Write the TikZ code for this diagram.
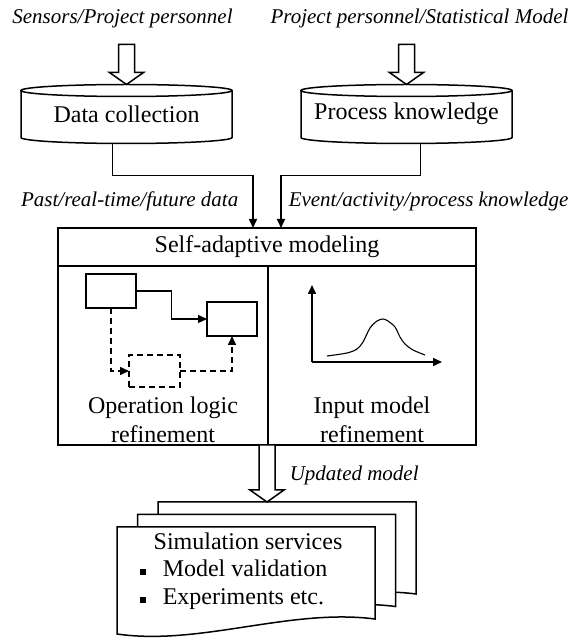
\documentclass[tikz,border=0pt]{standalone}
\usepackage{fontspec}
\setmainfont{Liberation Serif}
\usepackage{tikz}
\usetikzlibrary{calc,arrows.meta}
\newcommand{\mainsize}{\fontsize{24}{29}\selectfont}
\newcommand{\labelsize}{\fontsize{21}{25}\selectfont\itshape}
% hollow block arrow, tip at #1, length #2
\newcommand{\fatarrow}[2]{
	\draw[fill=white] let \p1=(#1) in
		(\x1-8pt,\y1+#2) -- (\x1+8pt,\y1+#2) -- (\x1+8pt,\y1+12pt) -- (\x1+17pt,\y1+12pt)
		-- (\x1,\y1) -- (\x1-17pt,\y1+12pt) -- (\x1-8pt,\y1+12pt) -- cycle;
}
% drum outline round node #1
\newcommand{\drum}[1]{
	\draw (#1.north west) -- (#1.south west) arc[start angle=180, end angle=360, x radius=105.5, y radius=6] -- (#1.north east);
	\draw (#1.north) ellipse [x radius=105.5, y radius=6];
}
% one sheet of the document stack, top left corner at (#1,#2)
\newcommand{\docsheet}[2]{
	\begin{scope}[shift={(#1,#2)}]
	\draw[fill=white] (0,0) -- (258,0) -- (258,-92) .. controls (173,-81) and (83,-119) .. (0,-107) -- cycle;
	\end{scope}
}
\tikzset{
	lbl/.style={font=\labelsize, inner sep=0pt},
	txt/.style={font=\mainsize, inner sep=0pt},
	box/.style={draw, outer sep=0pt, inner sep=0pt},
	conn/.style={-{Triangle[length=9pt,width=8pt]}},
	dashline/.style={dash pattern=on 6pt off 4pt}
}

\begin{document}
\begin{tikzpicture}[x=1pt,y=1pt,line width=1.5pt]
	\useasboundingbox (0,0) rectangle (574,638);

	% sources
	\node[lbl] (sens) at (122.5,619.5) {Sensors/Project personnel};
	\node[lbl] (stat) at (419.5,619.5) {Project personnel/Statistical Model};

	\node[txt, minimum width=211pt, minimum height=47pt, outer sep=0pt] (dc) at (126.5,524) {Data collection};
	\node[txt, minimum width=211pt, minimum height=47pt, outer sep=0pt] (pk) at (406.5,524) {Process knowledge};
	\drum{dc}
	\drum{pk}

	\coordinate (dctop) at ($(dc.north)+(0,6)$);
	\coordinate (pktop) at ($(pk.north)+(0,6)$);
	\fatarrow{dctop}{40pt}
	\fatarrow{pktop}{40pt}

	% self-adaptive modeling box
	\node[box, font=\mainsize, minimum width=418pt, minimum height=38pt] (hdr) at (267,391) {Self-adaptive modeling};
	\node[box, minimum width=210pt, minimum height=179pt, anchor=north west] (olp) at (hdr.south west) {};
	\node[box, minimum width=208pt, minimum height=179pt, anchor=north east] (imp) at (hdr.south east) {};
	\node[txt, align=center, anchor=base] (olt) at ($(olp.south)+(0,2)$) {Operation logic\\refinement};
	\node[txt, align=center, anchor=base] (imt) at ($(imp.south)+(0,2)$) {Input model\\refinement};

	\coordinate (dcout) at ($(dc.south)+(-14,-6)$);
	\coordinate (pkout) at ($(pk.south)+(14,-6)$);
	\coordinate (inL) at ($(hdr.north)+(-14,0)$);
	\coordinate (inR) at ($(hdr.north)+(14,0)$);
	\draw[conn] (dcout) -- ++(0,-32) -| (inL);
	\draw[conn] (pkout) -- ++(0,-32) -| (inR);
	\node[lbl, anchor=east] (pastlbl) at (239,437) {Past/real-time/future data};
	\node[lbl, anchor=west] (evlbl) at (288,437) {Event/activity/process knowledge};

	% operation logic sketch
	\node[box, minimum width=50pt, minimum height=34pt] (b1) at (111,347) {};
	\node[box, minimum width=50pt, minimum height=34pt] (b2) at (232,319) {};
	\node[box, dashline, minimum width=51pt, minimum height=32pt] (b3) at (154.5,267) {};
	\draw[conn, line width=1.2pt] (b1.east) -| ($(b1.east)!.5!(b2.west)$) |- (b2.west);
	\draw[conn, dashline] (b1.south) |- (b3.west);
	\draw[conn, dashline] (b3.east) -| (b2.south);

	% input distribution sketch
	\coordinate (org) at (312,276);
	\draw[conn] (org) -- (312,353);
	\draw[conn] (org) -- (442,276);
	\draw[line width=1.1pt] plot[smooth] coordinates {(327,282) (347,285) (357,289) (363,296) (370,310) (377,317) (383,319) (388,317) (395,311) (400,301) (405,294) (413,288) (425,283)};

	% simulation services
	\docsheet{158}{136}
	\docsheet{137.5}{123.5}
	\docsheet{117}{111}
	\coordinate (simtop) at (267,136);
	\coordinate (hdrbot) at (267,193);
	\fatarrow{simtop}{57pt}
	\node[lbl, anchor=west] (updlbl) at (289,162.5) {Updated model};

	\node[txt, anchor=base] (simt) at (248,88) {Simulation services};
	\node[txt, anchor=base west] (mv) at (139,61) {\rule[2pt]{6pt}{6pt}\hspace{17pt}Model validation};
	\node[txt, anchor=base west] (ex) at (139,33) {\rule[2pt]{6pt}{6pt}\hspace{17pt}Experiments etc.};
\end{tikzpicture}
\end{document}
